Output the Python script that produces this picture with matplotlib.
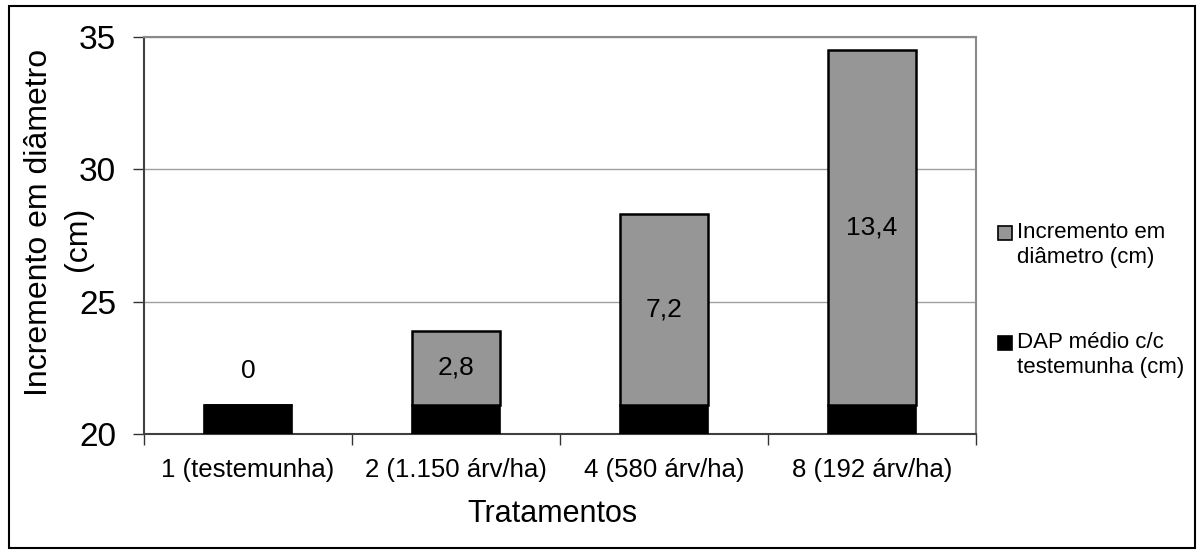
import matplotlib
matplotlib.use("Agg")
import matplotlib.pyplot as plt
from matplotlib.patches import Rectangle
import numpy as np

plt.rcParams['font.family'] = ['Liberation Sans', 'DejaVu Sans']

categories = ["1 (testemunha)", "2 (1.150 árv/ha)", "4 (580 árv/ha)", "8 (192 árv/ha)"]
dap_base = [21.1, 21.1, 21.1, 21.1]
incremento = [0.0, 2.8, 7.2, 13.4]
inc_labels = ["0", "2,8", "7,2", "13,4"]
yticks = [20, 25, 30, 35]
legend_labels = ["Incremento em\ndiâmetro (cm)", "DAP médio c/c\ntestemunha (cm)"]

W, H = 1199, 551
fig = plt.figure(figsize=(W / 100, H / 100), dpi=100)
ax = fig.add_axes([144 / W, 1 - 434 / H, (976 - 144) / W, (434 - 37) / H])

x = np.arange(len(categories))
bw = 0.42
ax.bar(x, dap_base, width=bw, color='black', edgecolor='black', linewidth=1.2, zorder=3)
ax.bar(x, incremento, width=bw, bottom=dap_base, color='#969696', edgecolor='black',
       linewidth=1.8, zorder=3)

for i in range(len(categories)):
    if incremento[i] == 0:
        ax.annotate(inc_labels[i], (x[i], dap_base[i]), xytext=(0, 16), textcoords='offset points',
                    ha='center', va='bottom', fontsize=19, zorder=4)
    else:
        ax.text(x[i], dap_base[i] + incremento[i] / 2, inc_labels[i], ha='center', va='center',
                fontsize=19, zorder=4)

ax.set_ylim(20, 35)
ax.set_xlim(-0.5, len(categories) - 0.5)
ax.set_yticks(yticks)
ax.set_yticklabels([str(v) for v in yticks], fontsize=24)
ax.tick_params(axis='y', length=8, width=1, direction='out', pad=12, color='#333333')

ax.set_xticks(np.arange(-0.5, len(categories), 1.0))
ax.set_xticklabels([])
ax.tick_params(axis='x', which='major', length=8, width=1, direction='out', color='#333333')
ax.set_xticks(x, minor=True)
ax.set_xticklabels(categories, minor=True, fontsize=18.5)
ax.tick_params(axis='x', which='minor', length=0, pad=17)

ax.yaxis.grid(True, color='#a0a0a0', linewidth=1, zorder=0)
ax.set_axisbelow(True)
for s in ['top', 'right']:
    ax.spines[s].set_color('#8a8a8a')
    ax.spines[s].set_linewidth(1.5)
for s in ['left', 'bottom']:
    ax.spines[s].set_color('#404040')
    ax.spines[s].set_linewidth(1.5)

fig.text(39 / W, 1 - 222 / H, "Incremento em diâmetro", rotation=90, ha='center', va='center',
         fontsize=23)
fig.text(78 / W, 1 - 239 / H, "(cm)", rotation=90, ha='center', va='center', fontsize=23)
fig.text(552 / W, 1 - 514 / H, "Tratamentos", ha='center', va='center', fontsize=22)

# legend
sq = 14
entries = [(226, '#969696'), (336, 'black')]
for (ytop, col), lab in zip(entries, legend_labels):
    fig.patches.append(Rectangle((998 / W, 1 - (ytop + sq) / H), sq / W, sq / H,
                                 transform=fig.transFigure, facecolor=col, edgecolor='black',
                                 linewidth=1.2))
    fig.text(1017 / W, 1 - (ytop - 4) / H, lab, ha='left', va='top', fontsize=16, linespacing=1.25)

# figure border
fig.patches.append(Rectangle((9 / W, 1 - 548 / H), (1195 - 9) / W, (548 - 6) / H,
                             transform=fig.transFigure, fill=False, edgecolor='black', linewidth=1.5))

fig.savefig("out.png", dpi=100)
